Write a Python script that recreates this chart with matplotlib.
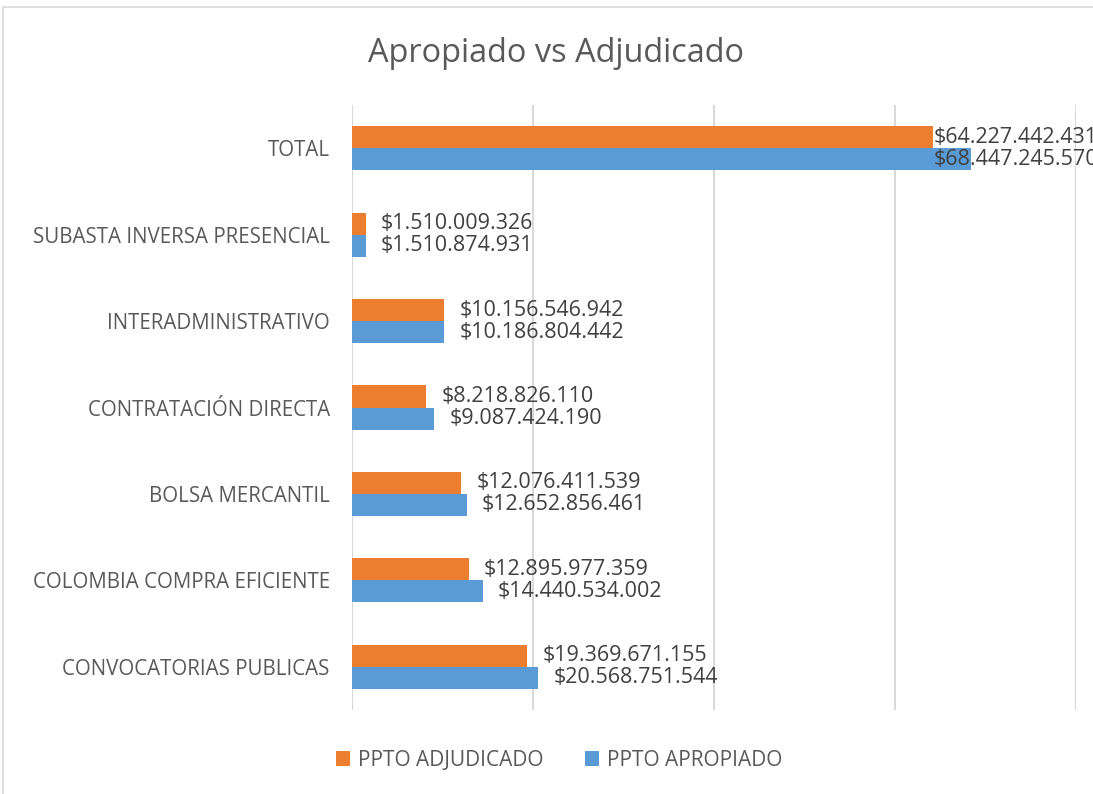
import matplotlib.pyplot as plt
from matplotlib.patches import Rectangle
import numpy as np

# --- Data ---
categorias = ["TOTAL", "SUBASTA INVERSA PRESENCIAL", "INTERADMINISTRATIVO",
              "CONTRATACIÓN DIRECTA", "BOLSA MERCANTIL",
              "COLOMBIA COMPRA EFICIENTE", "CONVOCATORIAS PUBLICAS"]
adjudicado = [64227442431, 1510009326, 10156546942, 8218826110,
              12076411539, 12895977359, 19369671155]
apropiado = [68447245570, 1510874931, 10186804442, 9087424190,
             12652856461, 14440534002, 20568751544]

C_ADJ = "#ED7D31"
C_APR = "#5B9BD5"
TXT = "#404040"
GRID = "#D9D9D9"
VAL_FS = 15.5

plt.rcParams['font.family'] = ['Open Sans', 'DejaVu Sans']

def pesos(v):
    return "$" + f"{v:,}".replace(",", ".")

fig = plt.figure(figsize=(10.93, 7.94), dpi=100)
ax = fig.add_axes([352 / 1093, 84 / 794, 724 / 1093, 605 / 794])

# outer chart border (image is cropped on the right and bottom)
fig.patches.append(Rectangle((3 / 1093, -0.1), 1.2, (794 - 7) / 794 + 0.1,
                             transform=fig.transFigure, fill=False,
                             edgecolor=GRID, linewidth=1.2))

y = np.arange(len(categorias))
h = 0.255
ax.barh(y - h / 2, adjudicado, height=h, color=C_ADJ, label="PPTO ADJUDICADO")
ax.barh(y + h / 2, apropiado, height=h, color=C_APR, label="PPTO APROPIADO")

for i in range(len(categorias)):
    if categorias[i] == "TOTAL":
        # Excel pulls the labels back so they fit inside the chart
        x = adjudicado[i]
        ax.text(x, y[i] - h / 2, pesos(adjudicado[i]), va="center", ha="left",
                fontsize=VAL_FS, color=TXT)
        ax.text(x, y[i] + h / 2, pesos(apropiado[i]), va="center", ha="left",
                fontsize=VAL_FS, color=TXT)
    else:
        ax.annotate(pesos(adjudicado[i]), (adjudicado[i], y[i] - h / 2),
                    xytext=(11, 0), textcoords="offset points",
                    va="center", ha="left", fontsize=VAL_FS, color=TXT)
        ax.annotate(pesos(apropiado[i]), (apropiado[i], y[i] + h / 2),
                    xytext=(11, 0), textcoords="offset points",
                    va="center", ha="left", fontsize=VAL_FS, color=TXT)

ax.set_xlim(0, 80e9)
ax.set_ylim(len(categorias) - 0.5, -0.5)
ax.set_xticks([0, 20e9, 40e9, 60e9, 80e9])
ax.set_xticklabels([])
ax.tick_params(axis="x", length=0)
ax.tick_params(axis="y", length=0, pad=16, labelsize=14.8, labelcolor="#595959")
ax.set_yticks(y)
ax.set_yticklabels(categorias)
ax.grid(axis="x", color=GRID, linewidth=1.5)
ax.set_axisbelow(True)
for s in ax.spines.values():
    s.set_visible(False)

fig.text(556 / 1093, 1 - 53 / 794, "Apropiado vs Adjudicado", ha="center",
         va="center", fontsize=23.4, color="#595959")

fig.legend(loc="center", bbox_to_anchor=(559 / 1093, 1 - 760 / 794), ncol=2,
           frameon=False, fontsize=15, labelcolor="#595959",
           handlelength=0.7, handleheight=0.7, handletextpad=0.35,
           columnspacing=2.0)

fig.savefig("out.png", dpi=100, facecolor="white")
